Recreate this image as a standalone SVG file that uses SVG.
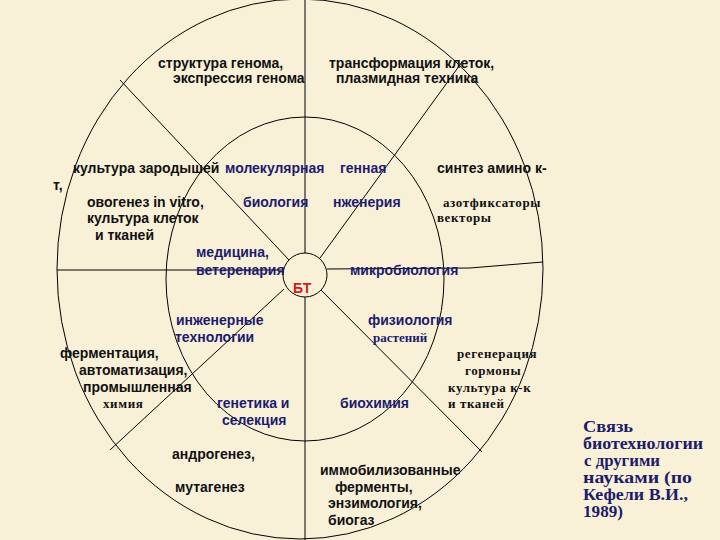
<svg xmlns="http://www.w3.org/2000/svg" width="720" height="540" viewBox="0 0 720 540">
<style>
.ln{stroke:#000;stroke-width:1;fill:none}
.b{font-family:"Liberation Sans",Arial,sans-serif;font-weight:bold;font-size:14px;fill:#111}
.n{font-family:"Liberation Sans",Arial,sans-serif;font-weight:bold;font-size:14px;fill:#1c1c6e}
.s{font-family:"Liberation Serif","Times New Roman",serif;font-weight:bold;font-size:13px;fill:#111;letter-spacing:0.6px}
.sn{font-family:"Liberation Serif","Times New Roman",serif;font-weight:bold;font-size:13px;fill:#1c1c6e}
.cap{font-family:"Liberation Serif","Times New Roman",serif;font-weight:bold;font-size:16px;fill:#1c1c6a}
.r{font-family:"Liberation Sans",Arial,sans-serif;font-weight:bold;font-size:14px;fill:#d41a1a}
</style>
<rect width="720" height="540" fill="#f9f0d8"/>
<g id="connectors">
<ellipse class="ln" cx="300" cy="269" rx="243" ry="270"/>
<ellipse class="ln" cx="305" cy="279" rx="139" ry="162"/>
<line class="ln" x1="305" y1="0" x2="305" y2="253"/>
<line class="ln" x1="305" y1="297" x2="305" y2="540"/>
<line class="ln" x1="57" y1="270" x2="283" y2="270"/>
<line class="ln" x1="327" y1="269" x2="470" y2="268"/>
<line class="ln" x1="470" y1="268" x2="543" y2="262"/>
<line class="ln" x1="120" y1="80" x2="289" y2="260"/>
<line class="ln" x1="462" y1="62" x2="320" y2="258"/>
<line class="ln" x1="284" y1="289" x2="110" y2="450"/>
<line class="ln" x1="321" y1="290" x2="482" y2="452"/>
</g>
<g id="bt">
<circle class="ln" cx="305" cy="275" r="22"/>
<text class="r" x="293" y="293">БТ</text>
</g>
<g id="top-left"><text class="b" x="158" y="68">структура генома,</text><text class="b" x="173" y="83">экспрессия генома</text></g>
<g id="top-right"><text class="b" x="329" y="68">трансформация клеток,</text><text class="b" x="336" y="83">плазмидная техника</text></g>
<g id="mol-bio"><text class="n" x="225" y="173">молекулярная</text><text class="n" x="243" y="207">биология</text></g>
<g id="gen-eng"><text class="n" x="340" y="173">генная</text><text class="n" x="333" y="207">нженерия</text></g>
<g id="outer-ul"><text class="b" x="73" y="173">культура зародышей</text><text class="b" x="53" y="190">т,</text><text class="b" x="87" y="207">овогенез in vitro,</text><text class="b" x="87" y="223">культура клеток</text><text class="b" x="95" y="240">и тканей</text></g>
<g id="outer-ur"><text class="b" x="437" y="173">синтез амино к-</text><text class="s" x="443" y="207">азотфиксаторы</text><text class="s" x="437" y="222">векторы</text></g>
<g id="medicine"><text class="n" x="196" y="257">медицина,</text><text class="n" x="196" y="275">ветеренария</text></g>
<g id="microbio"><text class="n" x="350" y="275">микробиология</text></g>
<g id="eng-tech"><text class="n" x="176" y="325">инженерные</text><text class="n" x="175" y="342">технологии</text></g>
<g id="plant-phys"><text class="n" x="368" y="325">физиология</text><text class="sn" x="373" y="342">растений</text></g>
<g id="outer-ll"><text class="b" x="60" y="358">ферментация,</text><text class="b" x="79" y="375">автоматизация,</text><text class="b" x="83" y="392">промышленная</text><text class="s" x="103" y="408">химия</text></g>
<g id="genetics"><text class="n" x="217" y="408">генетика и</text><text class="n" x="222" y="425">селекция</text></g>
<g id="biochem"><text class="n" x="340" y="408">биохимия</text></g>
<g id="outer-lr"><text class="s" x="457" y="358">регенерация</text><text class="s" x="465" y="375">гормоны</text><text class="s" x="448" y="392">культура к-к</text><text class="s" x="448" y="408">и тканей</text></g>
<g id="outer-bl"><text class="b" x="172" y="459">андрогенез,</text><text class="b" x="175" y="492">мутагенез</text></g>
<g id="outer-br"><text class="b" x="320" y="475">иммобилизованные</text><text class="b" x="335" y="492">ферменты,</text><text class="b" x="328" y="508">энзимология,</text><text class="b" x="328" y="525">биогаз</text></g>
<g id="caption"><text class="cap" x="583" y="432" textLength="50" lengthAdjust="spacingAndGlyphs">Связь</text><text class="cap" x="583" y="449" textLength="120" lengthAdjust="spacingAndGlyphs">биотехнологии</text><text class="cap" x="584" y="466" textLength="76" lengthAdjust="spacingAndGlyphs">с другими</text><text class="cap" x="583" y="483" textLength="109" lengthAdjust="spacingAndGlyphs">науками (по</text><text class="cap" x="583" y="500" textLength="105" lengthAdjust="spacingAndGlyphs">Кефели В.И.,</text><text class="cap" x="583" y="517" textLength="40" lengthAdjust="spacingAndGlyphs">1989)</text></g>
</svg>
